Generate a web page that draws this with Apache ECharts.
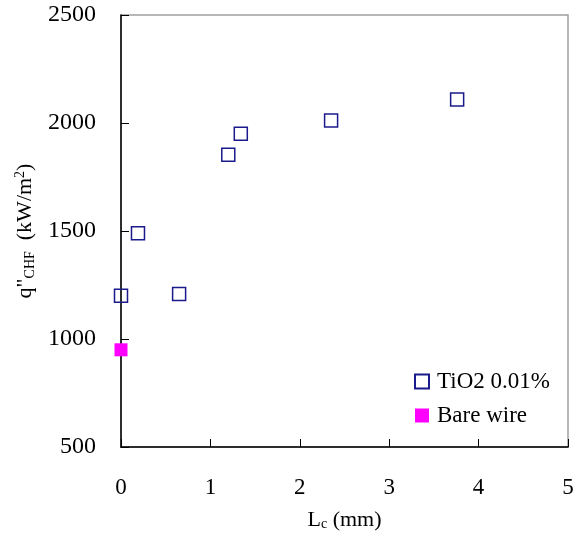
<!DOCTYPE html>
<html>
<head>
<meta charset="utf-8">
<script src="https://cdn.jsdelivr.net/npm/echarts@6/dist/echarts.min.js"></script>
<style>html,body{margin:0;padding:0;background:#fff}#c{width:575px;height:536px}</style>
</head>
<body>
<div id="c"></div>
<script>
var tioX = [0, 0.19, 0.65, 1.2, 1.34, 2.35, 3.76];
var tioY = [1200, 1490, 1208, 1853, 1950, 2012, 2109];
var bareX = [0];
var bareY = [950];
var seriesNames = ['TiO2 0.01%', 'Bare wire'];

function pairs(xs, ys){ return xs.map(function(x,i){return [x, ys[i]];}); }

var FONT = '"Liberation Serif","Times New Roman",serif';
var chart = echarts.init(document.getElementById('c'));
chart.setOption({
  animation: false,
  backgroundColor: '#fff',
  textStyle: {fontFamily: FONT},
  grid: {left: 121, right: 7, top: 15, bottom: 89, outerBoundsMode: 'none', containLabel: false, show: true, borderColor: '#a0a0a0', borderWidth: 1.5, backgroundColor: 'transparent'},
  xAxis: {
    type: 'value', min: 0, max: 5, interval: 1,
    name: 'L{sub|c} (mm)', nameLocation: 'middle', nameGap: 62,
    nameTextStyle: {fontFamily: FONT, fontSize: 22, color: '#000', rich: {sub: {fontFamily: FONT, fontSize: 14, verticalAlign: 'bottom', padding: [8,0,0,0]}}},
    axisLine: {lineStyle: {color: '#000', width: 1.5}},
    axisTick: {inside: true, length: 8, lineStyle: {color: '#000', width: 1}},
    axisLabel: {fontFamily: FONT, fontSize: 23, color: '#000', margin: 29, formatter: function(v){return String(v);}},
    splitLine: {show: false}
  },
  yAxis: {
    type: 'value', min: 500, max: 2500, interval: 500,
    name: 'q"{sub|CHF}  (kW/m{sup|2})', nameLocation: 'middle', nameGap: 76, nameRotate: 90,
    nameTextStyle: {fontFamily: FONT, fontSize: 22, color: '#000', rich: {
      sub: {fontFamily: FONT, fontSize: 14, padding: [9,0,0,0]},
      sup: {fontFamily: FONT, fontSize: 14, padding: [0,0,11,0]}
    }},
    axisLine: {lineStyle: {color: '#000', width: 1.5}},
    axisTick: {inside: true, length: 8, lineStyle: {color: '#000', width: 1}},
    axisLabel: {fontFamily: FONT, fontSize: 24, color: '#000', margin: 25, padding: [4,0,0,0], formatter: function(v){return String(v);}},
    splitLine: {show: false}
  },
  legend: {
    orient: 'vertical', left: 414, top: 370, padding: 0, itemWidth: 14, itemHeight: 14, itemGap: 11,
    textStyle: {fontFamily: FONT, fontSize: 23, color: '#000', padding: [0,0,0,3]},
    data: seriesNames
  },
  series: [
    {name: seriesNames[0], type: 'scatter', symbol: 'rect', symbolSize: 13,
     itemStyle: {color: 'rgba(255,255,255,0)', borderColor: '#1a1a8c', borderWidth: 1.5, opacity: 1},
     data: pairs(tioX, tioY)},
    {name: seriesNames[1], type: 'scatter', symbol: 'rect', symbolSize: 13,
     itemStyle: {color: '#ff00ff', opacity: 1},
     data: pairs(bareX, bareY)}
  ]
});
</script>
</body>
</html>
